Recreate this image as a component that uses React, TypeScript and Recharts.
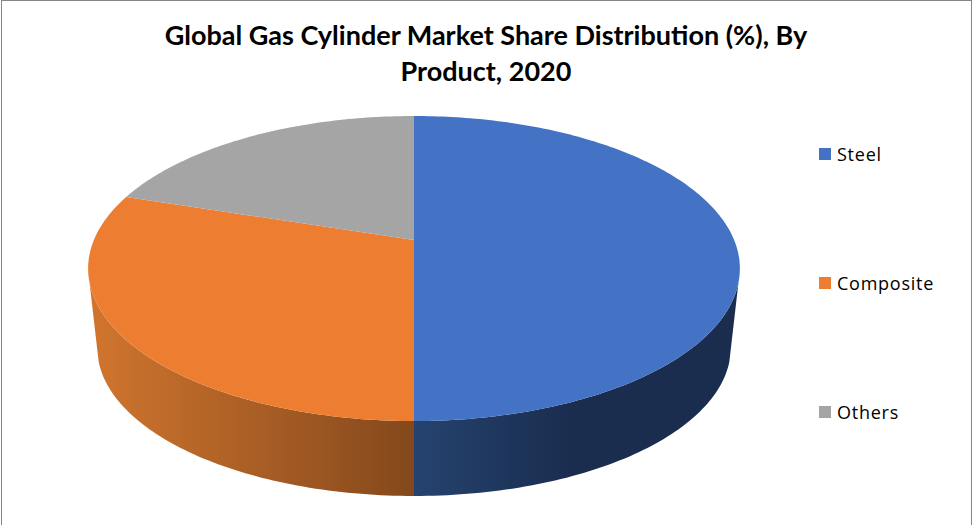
import { Cell, Legend, Pie, PieChart } from "recharts";

const categories = ["Steel", "Composite", "Others"];
const shares = [50, 30, 20];
const colors = ["#4472c4", "#ed7d31", "#a5a5a5"];
const titleLines = ["Global Gas Cylinder Market Share Distribution (%), By", "Product, 2020"];

const tableData = categories.map((name, i) => ({ name, value: shares[i] }));

// perspective tilt of the pie disc (front edge is closer to the viewer)
const TILT = -0.187;
const X_SCALE = 0.982;
const Y_SCALE = 0.4515;
// bottom disc of the cylinder
const DEPTH = 80;
const BOTTOM_SCALE = 0.972;
// part of the rim that can be seen, degrees clockwise from the back
const RIM_FROM = 106;
const RIM_TO = 254;

function project(deg: number, cx: number, cy: number, r: number) {
  const t = (deg * Math.PI) / 180;
  const u = Math.sin(t);
  const v = -Math.cos(t);
  const d = 1 + TILT * v;
  return [cx + (r * X_SCALE * u) / d, cy + (r * Y_SCALE * v) / d];
}

function arcPoints(from: number, to: number, cx: number, cy: number, r: number) {
  const pts: number[][] = [];
  const steps = Math.max(2, Math.ceil(Math.abs(to - from)));
  for (let i = 0; i <= steps; i++) {
    pts.push(project(from + ((to - from) * i) / steps, cx, cy, r));
  }
  return pts;
}

const toPath = (pts: number[][]) =>
  "M" + pts.map((p) => p[0].toFixed(2) + "," + p[1].toFixed(2)).join("L") + "Z";

function TopFace(props: any) {
  const { cx, cy, outerRadius, startAngle, endAngle, fill } = props;
  const pts = arcPoints(90 - startAngle, 90 - endAngle, cx, cy, outerRadius);
  return <path d={toPath([[cx, cy], ...pts])} fill={fill} stroke="none" />;
}

function RimFace(props: any) {
  const { cx, cy, outerRadius, startAngle, endAngle, fill } = props;
  const from = Math.max(90 - startAngle, RIM_FROM);
  const to = Math.min(90 - endAngle, RIM_TO);
  if (to <= from) return null;
  const top = arcPoints(from, to, cx, cy, outerRadius);
  const bottom = arcPoints(to, from, cx, cy + DEPTH, outerRadius * BOTTOM_SCALE);
  return <path d={toPath([...top, ...bottom])} fill={fill} stroke="none" />;
}

function LegendList({ payload }: any) {
  // the rim pie also reports its sectors here, only the top faces get a row
  const items = (payload || []).filter((item: any) => colors.includes(item.color));
  return (
    <div>
      {items.map((item: any) => (
        <div
          key={item.value}
          style={{ display: "flex", alignItems: "center", height: 129, color: "#000" }}
        >
          <span style={{ width: 12, height: 12, background: item.color, marginRight: 6 }} />
          <span style={{ fontSize: 18, letterSpacing: 0.75 }}>{item.value}</span>
        </div>
      ))}
    </div>
  );
}

export default function App() {
  return (
    <div
      style={{
        position: "absolute",
        left: 1,
        top: 0,
        width: 971,
        height: 525,
        boxSizing: "border-box",
        borderTop: "1px solid #868686",
        borderLeft: "1px solid #868686",
        borderRight: "1px solid #868686",
        background: "#fff",
        fontFamily: "'Open Sans', sans-serif",
      }}
    >
      <div
        style={{
          position: "absolute",
          left: -2,
          top: 16,
          width: 972,
          textAlign: "center",
          fontFamily: "Lato, sans-serif",
          fontWeight: 700,
          fontSize: 27,
          lineHeight: "36px",
          color: "#000",
        }}
      >
        {titleLines.map((line) => (
          <div key={line}>{line}</div>
        ))}
      </div>
      <div style={{ position: "absolute", left: -2, top: -1 }}>
        <PieChart width={972} height={525} margin={{ top: 0, right: 0, bottom: 0, left: 0 }}>
          <defs>
            <linearGradient id="rim-steel" gradientUnits="userSpaceOnUse" x1="414" y1="0" x2="570" y2="0">
              <stop offset="0" stopColor="#25436f" />
              <stop offset="1" stopColor="#1a2d4f" />
            </linearGradient>
            <linearGradient id="rim-composite" gradientUnits="userSpaceOnUse" x1="414" y1="0" x2="92" y2="0">
              <stop offset="0" stopColor="#84481c" />
              <stop offset="1" stopColor="#d0752e" />
            </linearGradient>
          </defs>
          <Pie
            data={tableData}
            dataKey="value"
            nameKey="name"
            cx={414}
            cy={240}
            outerRadius={326}
            startAngle={90}
            endAngle={-270}
            legendType="none"
            shape={RimFace}
            isAnimationActive={false}
          >
            <Cell fill="url(#rim-steel)" />
            <Cell fill="url(#rim-composite)" />
            <Cell fill="none" />
          </Pie>
          <Pie
            data={tableData}
            dataKey="value"
            nameKey="name"
            cx={414}
            cy={240}
            outerRadius={326}
            startAngle={90}
            endAngle={-270}
            shape={TopFace}
            isAnimationActive={false}
          >
            {categories.map((name, i) => (
              <Cell key={name} fill={colors[i]} />
            ))}
          </Pie>
          <Legend
            layout="vertical"
            align="right"
            verticalAlign="top"
            itemSorter={null}
            wrapperStyle={{ position: "absolute", left: 819, right: "auto", top: 89, width: 150 }}
            content={LegendList}
          />
        </PieChart>
      </div>
    </div>
  );
}
